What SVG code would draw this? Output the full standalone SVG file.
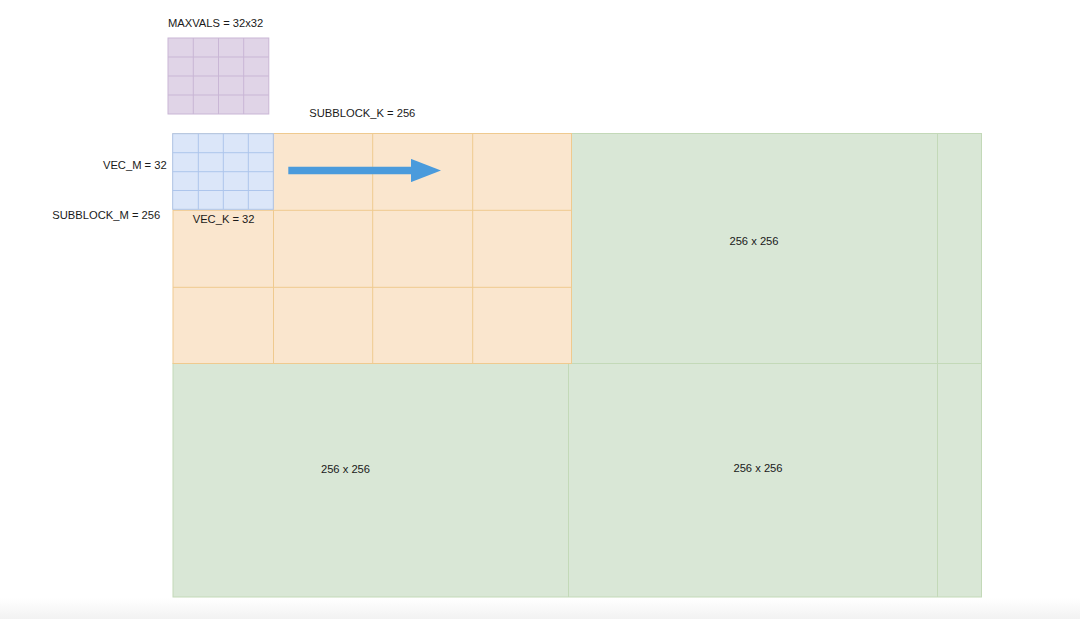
<svg xmlns="http://www.w3.org/2000/svg" width="1080" height="619" viewBox="0 0 1080 619">
<defs>
<style>
text{font-family:"Liberation Sans",Arial,sans-serif;font-size:11.2px;fill:#1a1a1a}
.g{fill:#d9e7d6;stroke:#c3d9b8;stroke-width:1}
.o{fill:#fae6ce;stroke:#efca8f;stroke-width:1}
.ol{stroke:#efca8f;stroke-width:1;fill:none}
.b{fill:#dbe6f9;stroke:#adc5ec;stroke-width:1}
.bl{stroke:#adc5ec;stroke-width:1;fill:none}
.p{fill:#e0d4e7;stroke:#c9b6d5;stroke-width:1}
.pl{stroke:#c9b6d5;stroke-width:1;fill:none}
.gl{stroke:#c3d9b8;stroke-width:1;fill:none}
</style>
<linearGradient id="foot" x1="0" y1="0" x2="0" y2="1">
<stop offset="0" stop-color="#ffffff"/>
<stop offset="1" stop-color="#f2f2f2"/>
</linearGradient>
<marker id="ah" markerWidth="4" markerHeight="3.1" refX="0" refY="1.55" orient="auto" markerUnits="strokeWidth">
<path d="M0,0 L4,1.55 L0,3.1 Z" fill="#4a9bdc"/>
</marker>
</defs>
<rect x="0" y="0" width="1080" height="619" fill="#ffffff"/>
<rect x="0" y="598" width="1080" height="21" fill="url(#foot)"/>

<g id="green-top-right">
<rect class="g" x="571.5" y="133.5" width="410" height="230"/>
<line class="gl" x1="937.5" y1="133.5" x2="937.5" y2="363.5"/>
<text x="754" y="244.5" text-anchor="middle">256 x 256</text>
</g>

<g id="green-bottom">
<rect class="g" x="173" y="363.5" width="808.5" height="233.5"/>
<line class="gl" x1="568.5" y1="363.5" x2="568.5" y2="597"/>
<line class="gl" x1="937.5" y1="363.5" x2="937.5" y2="597"/>
<text x="345.5" y="473" text-anchor="middle">256 x 256</text>
<text x="758" y="471.5" text-anchor="middle">256 x 256</text>
</g>

<g id="subblock">
<rect class="o" x="173" y="133.5" width="398.5" height="230"/>
<line class="ol" x1="273.5" y1="133.5" x2="273.5" y2="363.5"/>
<line class="ol" x1="372.7" y1="133.5" x2="372.7" y2="363.5"/>
<line class="ol" x1="472.7" y1="133.5" x2="472.7" y2="363.5"/>
<line class="ol" x1="173" y1="210.3" x2="571.5" y2="210.3"/>
<line class="ol" x1="173" y1="287.3" x2="571.5" y2="287.3"/>
</g>

<g id="vec-block">
<rect class="b" x="172.7" y="133.7" width="100.6" height="75.6"/>
<line class="bl" x1="198.3" y1="133.7" x2="198.3" y2="209.3"/>
<line class="bl" x1="223.3" y1="133.7" x2="223.3" y2="209.3"/>
<line class="bl" x1="248.3" y1="133.7" x2="248.3" y2="209.3"/>
<line class="bl" x1="172.7" y1="152.7" x2="273.3" y2="152.7"/>
<line class="bl" x1="172.7" y1="171.7" x2="273.3" y2="171.7"/>
<line class="bl" x1="172.7" y1="190.5" x2="273.3" y2="190.5"/>
</g>

<g id="maxvals">
<rect class="p" x="168" y="38" width="100.8" height="76"/>
<line class="pl" x1="193.3" y1="38" x2="193.3" y2="114"/>
<line class="pl" x1="218.5" y1="38" x2="218.5" y2="114"/>
<line class="pl" x1="243.7" y1="38" x2="243.7" y2="114"/>
<line class="pl" x1="168" y1="57" x2="268.8" y2="57"/>
<line class="pl" x1="168" y1="76" x2="268.8" y2="76"/>
<line class="pl" x1="168" y1="95" x2="268.8" y2="95"/>
<text x="168" y="27">MAXVALS = 32x32</text>
</g>

<g id="labels">
<text x="309.3" y="116.5">SUBBLOCK_K = 256</text>
<text x="166.7" y="169" text-anchor="end">VEC_M = 32</text>
<text x="52.3" y="219">SUBBLOCK_M = 256</text>
<text x="192.7" y="223">VEC_K = 32</text>
</g>

<g id="connectors">
<line x1="288.3" y1="170.5" x2="411" y2="170.5" stroke="#4a9bdc" stroke-width="7.5" marker-end="url(#ah)"/>
</g>
</svg>
